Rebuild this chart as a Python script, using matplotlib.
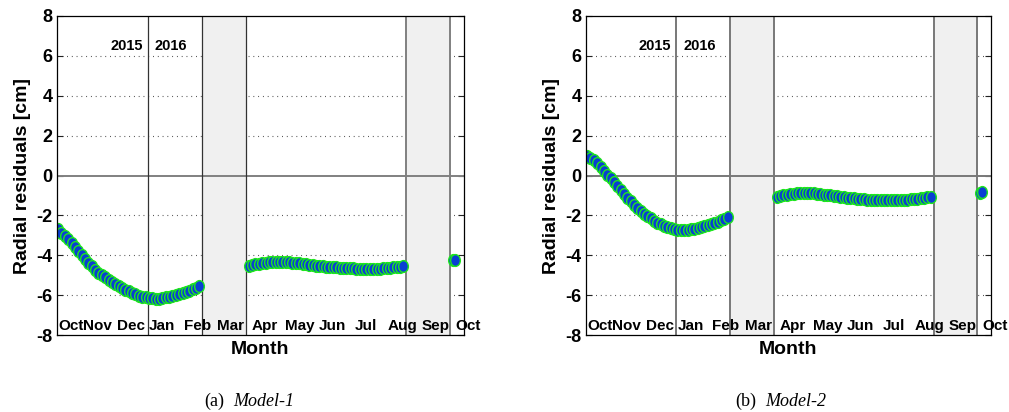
import matplotlib
matplotlib.use("Agg")
import matplotlib.pyplot as plt
from matplotlib.path import Path
from matplotlib.transforms import offset_copy
import numpy as np

# Time axis: days since 2016-01-01
DAYS_AUTUMN = [-80, -77, -74, -71, -68, -65, -62, -59, -56, -53, -50, -47, -44, -41,
               -38, -35, -32, -29, -26, -23, -20, -17, -14, -11, -8, -5, -2, 1, 4,
               7, 10, 13, 16, 19, 22, 25, 28, 31, 34, 37, 40, 43, 46]
DAYS_SUMMER = [90, 93, 96, 99, 102, 105, 108, 111, 114, 117, 120, 123, 126, 129, 132,
               135, 138, 141, 144, 147, 150, 153, 156, 159, 162, 165, 168, 171, 174,
               177, 180, 183, 186, 189, 192, 195, 198, 201, 204, 207, 210, 213, 216,
               219, 222, 225, 228]
DAYS_OCT = [272, 274]

# Radial residuals [cm], Model-1
M1_AUTUMN = [-2.70, -2.86, -3.03, -3.21, -3.41, -3.60, -3.80, -4.00, -4.19, -4.38,
             -4.55, -4.72, -4.88, -5.00, -5.11, -5.22, -5.33, -5.45, -5.55, -5.64,
             -5.72, -5.80, -5.88, -5.95, -6.02, -6.07, -6.11, -6.14, -6.16, -6.17,
             -6.17, -6.15, -6.11, -6.07, -6.03, -5.99, -5.95, -5.90, -5.84, -5.78,
             -5.71, -5.63, -5.55]
M1_SUMMER = [-4.52, -4.49, -4.46, -4.43, -4.40, -4.38, -4.36, -4.35, -4.34, -4.33,
             -4.33, -4.34, -4.35, -4.37, -4.39, -4.41, -4.43, -4.45, -4.47, -4.50,
             -4.52, -4.54, -4.56, -4.57, -4.59, -4.60, -4.61, -4.63, -4.64, -4.65,
             -4.66, -4.66, -4.67, -4.67, -4.68, -4.68, -4.68, -4.68, -4.67, -4.67,
             -4.66, -4.65, -4.63, -4.61, -4.59, -4.57, -4.55]
M1_OCT = [-4.26, -4.24]

# Radial residuals [cm], Model-2
M2_AUTUMN = [0.98, 0.88, 0.76, 0.62, 0.43, 0.24, 0.05, -0.15, -0.35, -0.54,
             -0.73, -0.93, -1.12, -1.29, -1.46, -1.62, -1.76, -1.91, -2.04, -2.15,
             -2.26, -2.36, -2.44, -2.52, -2.59, -2.64, -2.68, -2.71, -2.72, -2.72,
             -2.71, -2.69, -2.66, -2.63, -2.59, -2.55, -2.50, -2.44, -2.38, -2.32,
             -2.25, -2.18, -2.10]
M2_SUMMER = [-1.08, -1.04, -1.00, -0.97, -0.94, -0.92, -0.90, -0.88, -0.87, -0.87,
             -0.88, -0.90, -0.92, -0.94, -0.96, -0.98, -1.00, -1.03, -1.05, -1.07,
             -1.09, -1.11, -1.13, -1.15, -1.17, -1.18, -1.20, -1.21, -1.22, -1.23,
             -1.24, -1.24, -1.25, -1.25, -1.25, -1.24, -1.24, -1.23, -1.22, -1.21,
             -1.20, -1.18, -1.16, -1.14, -1.12, -1.10, -1.08]
M2_OCT = [-0.86, -0.83]

# Month labels and the day each month starts
MONTH_NAMES = ["Oct", "Nov", "Dec", "Jan", "Feb", "Mar", "Apr", "May", "Jun",
               "Jul", "Aug", "Sep", "Oct"]
MONTH_START = [-81, -61, -31, 0, 31, 60, 91, 121, 152, 182, 213, 244, 274]

# Periods without data (eclipse seasons)
GAPS = [(48, 87.5), (230.5, 269.5)]
YEAR_LABELS = ["2015", "2016"]
Y_TICKS = [-8, -6, -4, -2, 0, 2, 4, 6, 8]
CAPTIONS = [("(a)", "Model-1"), ("(b)", "Model-2")]

SANS = "Liberation Sans"
SERIF = "Liberation Serif"
FACE = "#0a3fd2"
EDGE = "#1ee61e"

# slightly tall elliptical marker
circ = Path.unit_circle()
ellipse = Path(circ.vertices * np.array([0.82, 1.0]), circ.codes)

fig = plt.figure(figsize=(10.09, 4.12), dpi=100)
W, H = 1009, 412
boxes = [(57, 16, 407, 319), (586, 16, 405, 319)]
series = [(M1_AUTUMN, M1_SUMMER, M1_OCT), (M2_AUTUMN, M2_SUMMER, M2_OCT)]
# (new-year line, first gap, second gap / zero line)
line_styles = [
    [("#333333", 0.9), ("#333333", 0.9), ("#808080", 1.4)],
    [("#787878", 1.4), ("#787878", 1.4), ("#787878", 1.4)],
]
# small horizontal nudges (pixels) for the month names
month_nudge = [1, 3.5, 4, 1, 1, 2, 2, 2, 0.5, 3, 1, 0.5, 0.5]

for k, (box, vals) in enumerate(zip(boxes, series)):
    x0, y0, w, h = box
    ax = fig.add_axes([x0 / W, (H - y0 - h) / H, w / W, h / H])
    ax.set_xlim(-81, 282)
    ax.set_ylim(-8, 8)

    # dotted horizontal grid
    for yv in [-6, -4, -2, 2, 4, 6]:
        ax.axhline(yv, color="#444444", lw=0.8, ls=(0, (0.8, 3.5)), zorder=1)

    # shaded gaps with their boundary lines
    for (a, b) in GAPS:
        ax.axvspan(a, b, facecolor="#f0f0f0", edgecolor="none", zorder=2)
    zc, zw = line_styles[k][2]
    ax.axhline(0, color=zc, lw=zw, zorder=3)
    lc, lw = line_styles[k][0]
    ax.axvline(0, color=lc, lw=lw, zorder=3)
    lc, lw = line_styles[k][1]
    ax.axvline(GAPS[0][0], color=lc, lw=lw, zorder=3)
    ax.axvline(GAPS[0][1], color=lc, lw=lw, zorder=3)
    lc, lw = line_styles[k][2]
    ax.axvline(GAPS[1][0], color=lc, lw=lw, zorder=3)
    ax.axvline(GAPS[1][1], color=lc, lw=lw, zorder=3)

    for days, v in zip([DAYS_AUTUMN, DAYS_SUMMER, DAYS_OCT], vals):
        ax.plot(days, v, ls="none", marker=ellipse, ms=8.5, mfc=FACE, mec=EDGE,
                mew=1.0, zorder=4)

    # axes decoration
    ax.set_xticks([])
    ax.set_yticks(Y_TICKS)
    ax.set_yticklabels([str(t) for t in Y_TICKS], fontfamily=SANS,
                       fontweight="bold", fontsize=13)
    ax.tick_params(axis="y", direction="in", length=4, width=0.8, right=True,
                   left=True, pad=3, color="#222222")
    for s in ax.spines.values():
        s.set_linewidth(0.9)
        s.set_zorder(5)
    ax.set_ylabel("Radial residuals [cm]", fontfamily=SANS, fontweight="bold",
                  fontsize=14, labelpad=4)
    ax.set_xlabel("Month", fontfamily=SANS, fontweight="bold", fontsize=14,
                  labelpad=4)

    # month names inside the plot, just above the bottom frame
    for name, d, dx in zip(MONTH_NAMES, MONTH_START, month_nudge):
        trans = offset_copy(ax.transData, fig=fig, x=dx, y=0, units="dots")
        ax.text(d, -7.55, name, transform=trans, ha="left", va="center",
                fontfamily=SANS, fontweight="bold", fontsize=11, zorder=6,
                clip_on=False)

    # year labels either side of the new-year line
    t_left = offset_copy(ax.transData, fig=fig, x=-5, y=0, units="dots")
    t_right = offset_copy(ax.transData, fig=fig, x=7, y=0, units="dots")
    ax.text(0, 6.5, YEAR_LABELS[0], transform=t_left, ha="right", va="center",
            fontfamily=SANS, fontweight="bold", fontsize=10.5, zorder=6)
    ax.text(0, 6.5, YEAR_LABELS[1], transform=t_right, ha="left", va="center",
            fontfamily=SANS, fontweight="bold", fontsize=10.5, zorder=6)

# sub-figure captions
for (tag, name), xs in zip(CAPTIONS, [233, 765]):
    fig.text((xs - 9) / W, (H - 401) / H, tag, ha="right", va="center",
             fontfamily=SERIF, fontsize=13)
    fig.text(xs / W, (H - 401) / H, name, ha="left", va="center",
             fontfamily=SERIF, fontstyle="italic", fontsize=13)

fig.savefig("out.png", dpi=100)
